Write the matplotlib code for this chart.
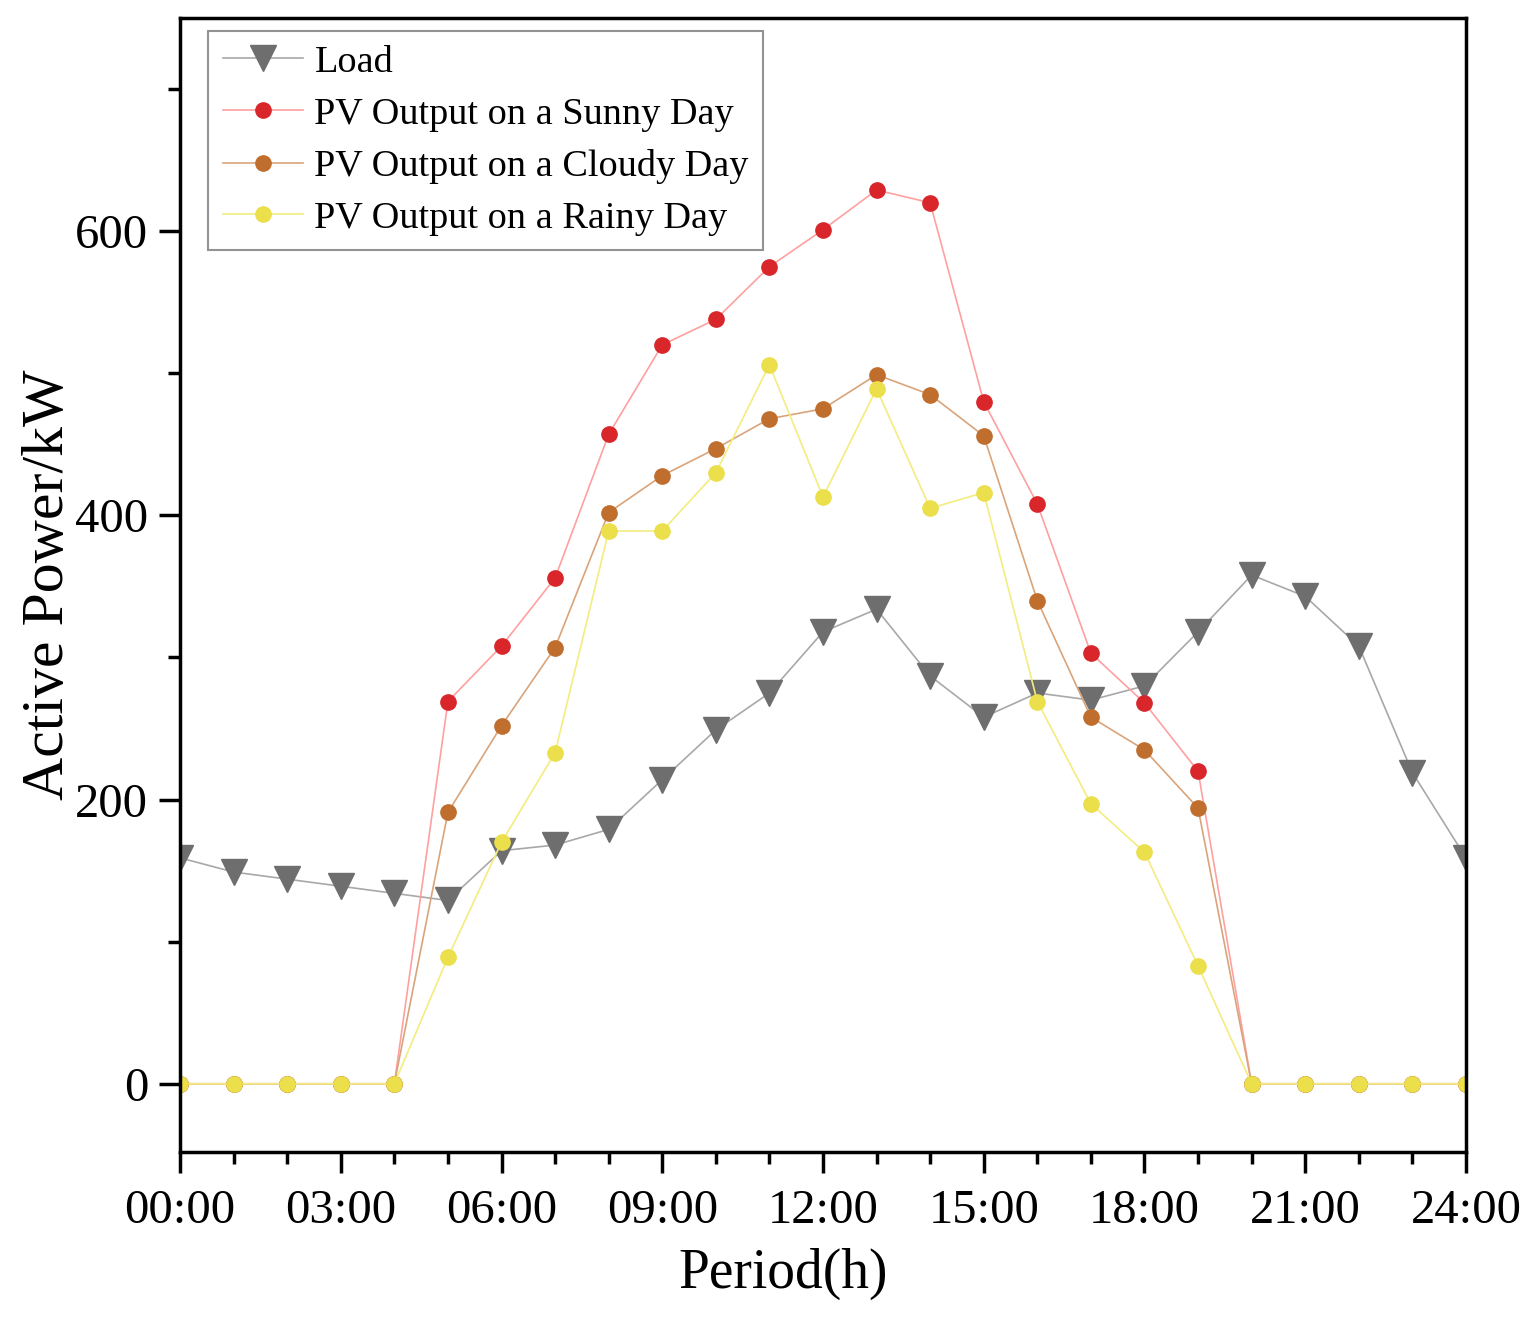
import matplotlib

matplotlib.use("Agg")
import matplotlib.pyplot as plt
from matplotlib.ticker import MultipleLocator

plt.rcParams["font.family"] = ["Liberation Serif", "DejaVu Serif"]

# 每小时一个点，0..24
hours = list(range(25))
x_tick_pos = [0, 3, 6, 9, 12, 15, 18, 21, 24]
x_tick_labels = ["00:00", "03:00", "06:00", "09:00", "12:00", "15:00", "18:00", "21:00", "24:00"]

load = [159, 149, 144, 139, 134, 129, 164, 168, 179, 214, 249, 275, 318, 334, 287,
        258, 275, 270, 280, 318, 358, 343, 308, 219, 159]
pv_sunny = [0, 0, 0, 0, 0, 269, 308, 356, 457, 520, 538, 575, 601, 629, 620,
            480, 408, 303, 268, 220, 0, 0, 0, 0, 0]
pv_cloudy = [0, 0, 0, 0, 0, 191, 252, 307, 402, 428, 447, 468, 475, 499, 485,
             456, 340, 258, 235, 194, 0, 0, 0, 0, 0]
pv_rainy = [0, 0, 0, 0, 0, 89, 170, 233, 389, 389, 430, 506, 413, 489, 405,
            416, 269, 197, 163, 83, 0, 0, 0, 0, 0]

fig = plt.figure(figsize=(15.36, 13.27), dpi=100)
ax = fig.add_axes([0.1172, 0.1319, 0.8372, 0.8545])

ax.plot(hours, load, color="#a8a8a8", linewidth=1.2, marker="v", markersize=19,
        markerfacecolor="#6e6e6e", markeredgecolor="#6e6e6e", label="Load")
ax.plot(hours, pv_sunny, color="#ffa0a0", linewidth=1.2, marker="o", markersize=11,
        markerfacecolor="#d8262b", markeredgecolor="#d8262b", label="PV Output on a Sunny Day")
ax.plot(hours, pv_cloudy, color="#d9a47a", linewidth=1.2, marker="o", markersize=11,
        markerfacecolor="#c06e2e", markeredgecolor="#c06e2e", label="PV Output on a Cloudy Day")
ax.plot(hours, pv_rainy, color="#f3ec7e", linewidth=1.2, marker="o", markersize=11,
        markerfacecolor="#ebdf4c", markeredgecolor="#ebdf4c", label="PV Output on a Rainy Day")

ax.set_xlim(0, 24)
ax.set_ylim(-48, 750)
ax.set_xticks(x_tick_pos)
ax.set_xticklabels(x_tick_labels)
ax.xaxis.set_minor_locator(MultipleLocator(1))
ax.yaxis.set_major_locator(MultipleLocator(200))
ax.yaxis.set_minor_locator(MultipleLocator(100))

for side in ["top", "right", "bottom", "left"]:
    ax.spines[side].set_linewidth(2.5)
ax.tick_params(which="major", direction="out", length=15, width=2.5, labelsize=35)
ax.tick_params(axis="x", which="major", pad=12)
ax.tick_params(axis="y", which="major", pad=8)
ax.tick_params(which="minor", direction="out", length=8.5, width=2.5)

ax.set_xlabel("Period(h)", fontsize=40, labelpad=10)
ax.xaxis.label.set_x(0.469)
ax.set_ylabel("Active Power/kW", fontsize=43, labelpad=-1)

leg = ax.legend(loc="upper left", bbox_to_anchor=(0.022, 0.989), fontsize=27.5, frameon=True,
                fancybox=False, edgecolor="#777777", handlelength=2.1, handletextpad=0.3,
                borderpad=0.38, labelspacing=0.45, borderaxespad=0.0)
leg.get_frame().set_linewidth(1.5)

fig.savefig("out.png", dpi=100)
